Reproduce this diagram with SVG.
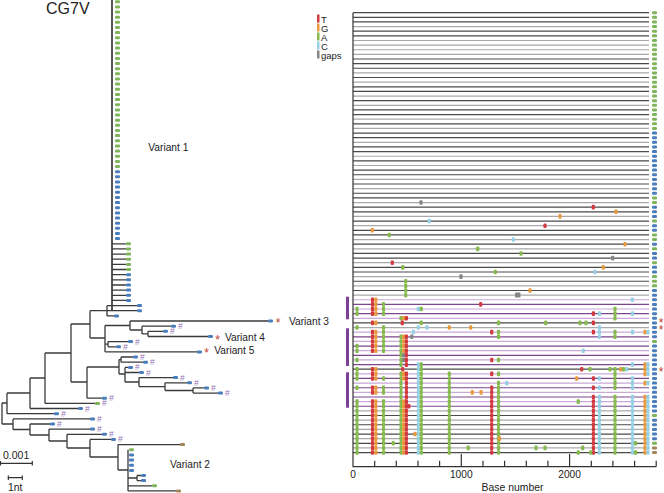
<svg xmlns="http://www.w3.org/2000/svg" xmlns:xlink="http://www.w3.org/1999/xlink" width="664" height="493" viewBox="0 0 664 493">
<style>
.txt{font-family:"Liberation Sans",Arial,sans-serif;fill:#222}
.lg{font-family:"Liberation Sans",Arial,sans-serif;font-size:9.5px;fill:#222}
.hs{font-family:"Liberation Sans",Arial,sans-serif;font-size:8.5px;fill:#9474b8}
.st{font-family:"Liberation Sans",Arial,sans-serif;font-size:12px;fill:#c0392b;text-anchor:middle}
.ln{fill:none;stroke-width:1.2}
.dk{stroke:#4a4a4a}.lt{stroke:#a9a9a9}.pd{stroke:#7d4691}.pl{stroke:#c9a9d8}
.tr{fill:none;stroke:#3a3a3a;stroke-width:1.3}
.trunk{fill:none;stroke:#555;stroke-width:2}
.ax{fill:none;stroke:#333;stroke-width:1.2}
.t{fill:#d23a3f}.g{fill:#e99a3e}.a{fill:#86b94e}.c{fill:#96d0e4}.x{fill:#858585}
.mb{fill:#4a7dbc}.mg{fill:#7fb55a}.mn{fill:#a3865c}
.bar{fill:#7d3f95}
</style>
<defs>
<rect id="dT" class="t" x="-1.6" y="-2.3" width="3.2" height="4.6" rx="1"/>
<rect id="dG" class="g" x="-1.6" y="-2.3" width="3.2" height="4.6" rx="1"/>
<rect id="dA" class="a" x="-1.6" y="-2.3" width="3.2" height="4.6" rx="1"/>
<rect id="dC" class="c" x="-1.6" y="-2.3" width="3.2" height="4.6" rx="1"/>
<rect id="dX" class="x" x="-1.6" y="-2.3" width="3.2" height="4.6" rx="1"/>
<rect id="mB" class="mb" x="0" y="-1.5" width="5" height="3" rx="1.2"/>
<rect id="mG" class="mg" x="0" y="-1.5" width="5" height="3" rx="1.2"/>
<rect id="mN" class="mn" x="0" y="-1.5" width="5" height="3" rx="1.2"/>
<g id="F">
<use href="#dA" x="357"/><use href="#dT" x="372.5"/><use href="#dG" x="375.8"/><use href="#dA" x="383.5"/><use href="#dA" x="401"/><use href="#dG" x="403.6"/><use href="#dT" x="406.4"/><use href="#dC" x="418.3"/><use href="#dA" x="421.3"/><use href="#dA" x="449.3"/><use href="#dT" x="491.7"/><use href="#dA" x="498.5"/><use href="#dT" x="593.4"/><use href="#dC" x="599.4"/><use href="#dA" x="615"/><use href="#dC" x="632.5"/><use href="#dG" x="645"/><use href="#dC" x="648"/>
</g>
</defs>
<rect width="664" height="493" fill="#fff"/>

<g id="title"><text class="txt" x="46" y="13.5" font-size="16">CG7V</text></g>

<g id="tree">
<path class="trunk" d="M112 0V310.7"/>
<path class="tr" d="M112 243.8H126M112 248.9H126M112 254.1H126M112 259.2H126M112 264.4H126M112 269.5H126M112 274.7H126M112 279.8H126M112 285H126M112 290.1H126M112 295.3H126M112 300.4H126
M90 310.7H137M107 305.6V315.9M107 305.6H137M107 315.9H114
M90 310.7V338M90 338H105M105 325.5V351.9M105 325.5H130M105 344.2H108M105 351.9H197
M130 321V330M130 321H268M130 330H142M142 326.2V333.9M142 326.2H171M142 333.9H148M148 331.3V336.5M148 331.3H163M148 336.5H208
M108 341.6V346.8M108 341.6H128M108 346.8H116
M71 324H90M71 324V382M71 382H87
M87 367V398.2M87 367H119M87 398.2H102
M119 359.6V374M119 359.6H121M119 374H125
M121 357V362.2M121 357H133M121 362.2H143
M125 367.4V382M125 367.4H128M125 372.5H139M125 382H139
M139 377.6V386.6M139 377.6H173M139 386.6H165
M165 382.8V390.5M165 382.8H187M165 390.5H193
M193 387.9V393.1M193 387.9H204M193 393.1H218
M45 353V403.4M45 353H71M45 403.4H95
M30 378V408.5M30 378H45M30 408.5H78
M7 393V413.7M7 393H30M7 413.7H54
M2 403V424M2 403H7M2 424H13
M13 418.9V429.5M13 418.9H90M13 429.5H30
M30 424V435M30 424H50M30 435H49
M49 429.1V441M49 429.1H90M49 441H67
M67 434.3V448M67 434.3H102M67 448H90
M90 439.4V457M90 439.4H111M90 457H118
M118 444.6V470M118 444.6H180M118 470H128
M128 449.8V490.9M128 478H137M128 485.8H152M128 490.9H176
M137 475.5V480.6M137 475.5H141M137 480.6H141"/>
</g>

<g id="tree-tips">
<use href="#mG" x="115" y="1.7"/><use href="#mG" x="115" y="6.9"/><use href="#mG" x="115" y="12"/><use href="#mG" x="115" y="17.2"/><use href="#mG" x="115" y="22.3"/><use href="#mG" x="115" y="27.5"/><use href="#mG" x="115" y="32.6"/><use href="#mG" x="115" y="37.8"/><use href="#mG" x="115" y="42.9"/><use href="#mG" x="115" y="48.1"/><use href="#mG" x="115" y="53.2"/><use href="#mG" x="115" y="58.4"/><use href="#mG" x="115" y="63.5"/><use href="#mG" x="115" y="68.7"/><use href="#mG" x="115" y="73.8"/><use href="#mG" x="115" y="79"/><use href="#mG" x="115" y="84.1"/><use href="#mG" x="115" y="89.3"/><use href="#mG" x="115" y="94.4"/><use href="#mG" x="115" y="99.6"/><use href="#mG" x="115" y="104.7"/><use href="#mG" x="115" y="109.9"/><use href="#mG" x="115" y="115"/><use href="#mG" x="115" y="120.2"/><use href="#mG" x="115" y="125.3"/><use href="#mG" x="115" y="130.5"/><use href="#mG" x="115" y="135.6"/><use href="#mG" x="115" y="140.8"/><use href="#mG" x="115" y="145.9"/><use href="#mG" x="115" y="151.1"/><use href="#mG" x="115" y="156.2"/><use href="#mG" x="115" y="161.4"/><use href="#mG" x="115" y="166.5"/>
<use href="#mB" x="115" y="171.7"/><use href="#mB" x="115" y="176.8"/><use href="#mB" x="115" y="182"/><use href="#mB" x="115" y="187.1"/><use href="#mB" x="115" y="192.3"/><use href="#mB" x="115" y="197.4"/><use href="#mB" x="115" y="202.6"/><use href="#mB" x="115" y="207.7"/><use href="#mB" x="115" y="212.9"/><use href="#mB" x="115" y="218"/><use href="#mB" x="115" y="223.2"/><use href="#mB" x="115" y="228.3"/><use href="#mB" x="115" y="233.5"/><use href="#mB" x="115" y="238.6"/>
<use href="#mG" x="126" y="243.8"/><use href="#mG" x="126" y="248.9"/><use href="#mG" x="126" y="254.1"/><use href="#mG" x="126" y="259.2"/><use href="#mG" x="126" y="264.4"/><use href="#mG" x="126" y="269.5"/>
<use href="#mB" x="126" y="274.7"/><use href="#mB" x="126" y="279.8"/><use href="#mB" x="126" y="285"/><use href="#mB" x="126" y="290.1"/><use href="#mB" x="126" y="295.3"/><use href="#mB" x="126" y="300.4"/>
<use href="#mB" x="137" y="305.6"/><use href="#mB" x="137" y="310.7"/><use href="#mB" x="114" y="315.9"/><use href="#mB" x="268" y="321"/><use href="#mB" x="171" y="326.2"/><use href="#mB" x="163" y="331.3"/><use href="#mB" x="208" y="336.5"/><use href="#mB" x="128" y="341.6"/><use href="#mB" x="116" y="346.8"/><use href="#mB" x="197" y="351.9"/><use href="#mB" x="133" y="357"/><use href="#mB" x="143" y="362.2"/><use href="#mB" x="128" y="367.4"/><use href="#mB" x="139" y="372.5"/><use href="#mB" x="173" y="377.6"/><use href="#mB" x="187" y="382.8"/><use href="#mB" x="204" y="387.9"/><use href="#mB" x="218" y="393.1"/><use href="#mB" x="102" y="398.2"/><use href="#mG" x="95" y="403.4"/><use href="#mB" x="78" y="408.5"/><use href="#mB" x="54" y="413.7"/><use href="#mB" x="90" y="418.9"/><use href="#mB" x="50" y="424"/><use href="#mB" x="90" y="429.1"/><use href="#mB" x="102" y="434.3"/><use href="#mB" x="111" y="439.4"/><use href="#mN" x="180" y="444.6"/><use href="#mG" x="129" y="449.8"/><use href="#mB" x="129" y="454.9"/><use href="#mB" x="129" y="460.1"/><use href="#mB" x="129" y="465.2"/><use href="#mB" x="129" y="470.4"/><use href="#mB" x="141" y="475.5"/><use href="#mB" x="141" y="480.6"/><use href="#mG" x="152" y="485.8"/><use href="#mN" x="176" y="490.9"/>
</g>

<g id="hashes">
<text class="hs" x="178" y="329.2">#</text><text class="hs" x="170" y="334.3">#</text><text class="hs" x="135" y="344.6">#</text><text class="hs" x="123" y="349.8">#</text><text class="hs" x="140" y="360">#</text><text class="hs" x="150" y="365.2">#</text><text class="hs" x="135" y="370.4">#</text><text class="hs" x="146" y="375.5">#</text><text class="hs" x="180" y="380.6">#</text><text class="hs" x="194" y="385.8">#</text><text class="hs" x="211" y="390.9">#</text><text class="hs" x="225" y="396.1">#</text><text class="hs" x="109" y="401.2">#</text><text class="hs" x="102" y="406.4">#</text><text class="hs" x="85" y="411.5">#</text><text class="hs" x="61" y="416.7">#</text><text class="hs" x="97" y="421.9">#</text><text class="hs" x="57" y="427">#</text><text class="hs" x="97" y="432.1">#</text><text class="hs" x="109" y="437.3">#</text><text class="hs" x="118" y="442.4">#</text>
</g>

<g id="variants">
<text class="txt" x="148.3" y="150.5" font-size="10.2">Variant 1</text>
<text class="st" x="278" y="326.5">*</text><text class="txt" x="289" y="324.5" font-size="10.2">Variant 3</text>
<text class="st" x="217.5" y="344.3">*</text><text class="txt" x="225" y="341" font-size="10.2">Variant 4</text>
<text class="st" x="206.7" y="357.3">*</text><text class="txt" x="214.3" y="354" font-size="10.2">Variant 5</text>
<text class="txt" x="170" y="468.3" font-size="10.2">Variant 2</text>
</g>

<g id="scale">
<text class="txt" x="3" y="459" font-size="10.5">0.001</text>
<path class="ax" d="M0.5 463.3H32.3M0.5 461V465.6M32.3 461V465.6M8.3 477.7H22.3M8.3 475.4V480M22.3 475.4V480"/>
<text class="txt" x="8" y="491" font-size="10.4">1nt</text>
</g>

<g id="legend">
<rect class="t" x="317" y="14.5" width="2.5" height="8"/><text class="lg" x="321" y="22.5">T</text>
<rect class="g" x="317" y="23.5" width="2.5" height="8"/><text class="lg" x="321" y="31.5">G</text>
<rect class="a" x="317" y="32.5" width="2.5" height="8"/><text class="lg" x="321" y="40.5">A</text>
<rect class="c" x="317" y="41.5" width="2.5" height="8"/><text class="lg" x="321" y="49.5">C</text>
<rect class="x" x="317" y="50.5" width="2.5" height="8"/><text class="lg" x="321" y="58.8">gaps</text>
</g>

<g id="rows">
<path class="ln lt" d="M353 26.59H649M353 40.48H649M353 45.11H649M353 49.74H649M353 54.37H649M353 72.89H649M353 82.15H649M353 96.04H649M353 105.3H649M353 119.19H649M353 128.45H649M353 142.34H649M353 156.23H649M353 165.49H649M353 179.38H649M353 188.64H649M353 202.53H649M353 216.42H649M353 225.68H649M353 239.57H649M353 248.83H649M353 262.72H649M353 276.61H649M353 285.87H649M353 295.13H649M353 327.54H649M353 410.88H649M353 420.14H649M353 429.4H649M353 438.66H649M353 447.92H649"/>
<path class="ln dk" d="M353 12.7H649M353 17.33H649M353 21.96H649M353 31.22H649M353 35.85H649M353 59H649M353 63.63H649M353 68.26H649M353 77.52H649M353 86.78H649M353 91.41H649M353 100.67H649M353 109.93H649M353 114.56H649M353 123.82H649M353 133.08H649M353 137.71H649M353 146.97H649M353 151.6H649M353 160.86H649M353 170.12H649M353 174.75H649M353 184.01H649M353 193.27H649M353 197.9H649M353 207.16H649M353 211.79H649M353 221.05H649M353 230.31H649M353 234.94H649M353 244.2H649M353 253.46H649M353 258.09H649M353 267.35H649M353 271.98H649M353 281.24H649M353 290.5H649M353 322.91H649M353 369.21H649M353 415.51H649M353 424.77H649M353 434.03H649M353 443.29H649M353 452.55H649"/>
<path class="ln pl" d="M353 299.76H649M353 309.02H649M353 318.28H649M353 332.17H649M353 341.43H649M353 350.69H649M353 359.95H649M353 373.84H649M353 383.1H649M353 392.36H649M353 401.62H649"/>
<path class="ln pd" d="M353 304.39H649M353 313.65H649M353 336.8H649M353 346.06H649M353 355.32H649M353 364.58H649M353 378.47H649M353 387.73H649M353 396.99H649M353 406.25H649"/>
</g>

<g id="groups">
<rect class="bar" x="346" y="296.7" width="3" height="22.6"/>
<rect class="bar" x="346" y="328.3" width="3" height="37.7"/>
<rect class="bar" x="346" y="372.3" width="3" height="35.4"/>
</g>

<g id="axis">
<path class="ax" d="M353 12.7V466.7H656.2M461.3 454V466.7M569.6 454V466.7M374.7 460.7V466.7M396.3 460.7V466.7M418 460.7V466.7M439.6 460.7V466.7M483 460.7V466.7M504.6 460.7V466.7M526.3 460.7V466.7M547.9 460.7V466.7M591.3 460.7V466.7M612.9 460.7V466.7M634.6 460.7V466.7M656.2 460.7V466.7"/>
<text class="txt" x="353" y="478.3" font-size="10.2" text-anchor="middle">0</text>
<text class="txt" x="461.3" y="478.3" font-size="10.2" text-anchor="middle">1000</text>
<text class="txt" x="569.6" y="478.3" font-size="10.2" text-anchor="middle">2000</text>
<text class="txt" x="512.5" y="490.5" font-size="10.4" text-anchor="middle">Base number</text>
</g>

<g id="mutations">
<use href="#dX" x="421" y="202.53"/><use href="#dT" x="593.3" y="207.16"/><use href="#dG" x="616" y="211.79"/><use href="#dG" x="560" y="216.42"/><use href="#dC" x="429.3" y="221.05"/><use href="#dT" x="545" y="225.68"/><use href="#dG" x="372.3" y="230.31"/><use href="#dA" x="389.3" y="234.94"/><use href="#dC" x="513.3" y="239.57"/><use href="#dG" x="625" y="244.2"/><use href="#dA" x="477.7" y="248.83"/><use href="#dA" x="521" y="253.46"/><use href="#dX" x="612.7" y="258.09"/><use href="#dT" x="392.3" y="262.72"/><use href="#dA" x="402.7" y="267.35"/><use href="#dG" x="603.3" y="267.35"/><use href="#dA" x="495.3" y="271.98"/><use href="#dC" x="595" y="271.98"/><use href="#dX" x="461" y="276.61"/><use href="#dA" x="405.7" y="281.24"/><use href="#dA" x="405.7" y="285.87"/><use href="#dA" x="405.7" y="290.5"/><use href="#dG" x="530" y="290.5"/><use href="#dA" x="405.7" y="295.13"/><rect class="x" x="515" y="292.6" width="5.5" height="5" rx="1.2"/>
<g transform="translate(0,299.76)"><use href="#dT" x="372.5"/><use href="#dG" x="375.8"/><use href="#dC" x="632.3"/></g>
<g transform="translate(0,304.39)"><use href="#dT" x="372.5"/><use href="#dG" x="375.8"/><use href="#dA" x="383.5"/><use href="#dT" x="480.7"/></g>
<g transform="translate(0,309.02)"><use href="#dA" x="357"/><use href="#dT" x="372.5"/><use href="#dG" x="375.8"/><use href="#dA" x="383.5"/><use href="#dC" x="418.3"/><use href="#dA" x="421.3"/><use href="#dA" x="615"/></g>
<g transform="translate(0,313.65)"><use href="#dA" x="357"/><use href="#dT" x="372.5"/><use href="#dG" x="375.8"/><use href="#dA" x="383.5"/><use href="#dT" x="593.4"/><use href="#dC" x="599.4"/><use href="#dA" x="615"/><use href="#dC" x="632.5"/></g>
<g transform="translate(0,318.28)"><use href="#dA" x="401"/><use href="#dG" x="403.6"/><use href="#dT" x="406.4"/><use href="#dA" x="615"/></g>
<g transform="translate(0,322.91)"><use href="#dT" x="372.5"/><use href="#dG" x="375.8"/><use href="#dT" x="402.3"/><use href="#dA" x="421.3"/><use href="#dA" x="498.5"/><use href="#dA" x="545.7"/><use href="#dA" x="580"/><use href="#dA" x="586"/><use href="#dT" x="593.4"/></g>
<g transform="translate(0,327.54)"><use href="#dA" x="357"/><use href="#dA" x="383.5"/><use href="#dC" x="418.3"/><use href="#dC" x="427"/><use href="#dG" x="449.3"/><use href="#dG" x="470.7"/><use href="#dC" x="599.4"/></g>
<g transform="translate(0,332.17)"><use href="#dT" x="372.5"/><use href="#dG" x="375.8"/><use href="#dA" x="383.5"/><use href="#dC" x="413.3"/><use href="#dT" x="491.7"/><use href="#dA" x="498.5"/><use href="#dT" x="593.4"/><use href="#dC" x="599.4"/><use href="#dA" x="615"/><use href="#dC" x="632.5"/><use href="#dG" x="645"/><use href="#dC" x="648"/></g>
<g transform="translate(0,336.8)"><use href="#dT" x="372.5"/><use href="#dG" x="375.8"/><use href="#dA" x="383.5"/><use href="#dA" x="401"/><use href="#dG" x="403.6"/><use href="#dT" x="406.4"/><use href="#dX" x="411.7"/><use href="#dA" x="498.5"/><use href="#dC" x="599.4"/><use href="#dA" x="615"/></g>
<g transform="translate(0,341.43)"><use href="#dT" x="372.5"/><use href="#dG" x="375.8"/><use href="#dA" x="383.5"/><use href="#dA" x="401"/><use href="#dG" x="403.6"/><use href="#dT" x="406.4"/></g>
<g transform="translate(0,346.06)"><use href="#dA" x="357"/><use href="#dT" x="372.5"/><use href="#dG" x="375.8"/><use href="#dA" x="383.5"/><use href="#dA" x="401"/><use href="#dG" x="403.6"/><use href="#dT" x="406.4"/></g>
<g transform="translate(0,350.69)"><use href="#dA" x="357"/><use href="#dT" x="372.5"/><use href="#dG" x="375.8"/><use href="#dA" x="383.5"/><use href="#dA" x="401"/><use href="#dG" x="403.6"/><use href="#dT" x="406.4"/><use href="#dC" x="583.3"/></g>
<g transform="translate(0,355.32)"><use href="#dA" x="401"/><use href="#dX" x="403.6"/><use href="#dT" x="406.4"/></g>
<g transform="translate(0,359.95)"><use href="#dA" x="357"/><use href="#dA" x="401"/><use href="#dX" x="403.6"/><use href="#dT" x="406.4"/><use href="#dT" x="491.7"/><use href="#dA" x="498.5"/></g>
<g transform="translate(0,364.58)"><use href="#dA" x="401"/><use href="#dT" x="406.4"/><use href="#dC" x="418.3"/><use href="#dA" x="421.3"/><use href="#dC" x="632.5"/><use href="#dG" x="645"/><use href="#dC" x="648"/></g>
<g transform="translate(0,369.21)"><use href="#dA" x="357"/><use href="#dT" x="372.5"/><use href="#dG" x="375.8"/><use href="#dT" x="402.7"/><use href="#dC" x="418.3"/><use href="#dA" x="421.3"/><use href="#dT" x="581.7"/><use href="#dA" x="590"/><use href="#dA" x="610"/><use href="#dA" x="615"/><use href="#dG" x="620.7"/><use href="#dA" x="623.5"/><use href="#dC" x="626.7"/><use href="#dG" x="645"/><use href="#dC" x="648"/></g>
<g transform="translate(0,373.84)"><use href="#dA" x="357"/><use href="#dT" x="372.5"/><use href="#dG" x="375.8"/><use href="#dA" x="401"/><use href="#dG" x="403.6"/><use href="#dT" x="406.4"/><use href="#dC" x="418.3"/><use href="#dA" x="421.3"/><use href="#dA" x="449.3"/><use href="#dT" x="491.7"/><use href="#dA" x="498.5"/><use href="#dA" x="615"/><use href="#dG" x="645"/><use href="#dC" x="648"/></g>
<g transform="translate(0,378.47)"><use href="#dA" x="357"/><use href="#dT" x="372.5"/><use href="#dG" x="375.8"/><use href="#dA" x="383.5"/><use href="#dA" x="401"/><use href="#dG" x="403.6"/><use href="#dT" x="406.4"/><use href="#dC" x="418.3"/><use href="#dA" x="421.3"/><use href="#dA" x="449.3"/><use href="#dG" x="576.7"/><use href="#dT" x="593.4"/><use href="#dC" x="599.4"/><use href="#dA" x="615"/><use href="#dC" x="632.5"/></g>
<g transform="translate(0,383.1)"><use href="#dA" x="401"/><use href="#dT" x="406.4"/><use href="#dC" x="418.3"/><use href="#dA" x="421.3"/><use href="#dA" x="449.3"/><use href="#dA" x="498.5"/><use href="#dC" x="506.7"/><use href="#dA" x="615"/><use href="#dC" x="632.5"/><use href="#dG" x="645"/><use href="#dC" x="648"/></g>
<g transform="translate(0,387.73)"><use href="#dA" x="357"/><use href="#dT" x="372.5"/><use href="#dG" x="375.8"/><use href="#dA" x="383.5"/><use href="#dA" x="401"/><use href="#dT" x="406.4"/><use href="#dC" x="418.3"/><use href="#dA" x="421.3"/><use href="#dA" x="449.3"/><use href="#dT" x="491.7"/><use href="#dA" x="498.5"/><use href="#dT" x="593.4"/><use href="#dC" x="599.4"/><use href="#dA" x="615"/><use href="#dC" x="632.5"/></g>
<g transform="translate(0,392.36)"><use href="#dT" x="372.5"/><use href="#dG" x="375.8"/><use href="#dA" x="383.5"/><use href="#dA" x="401"/><use href="#dT" x="406.4"/><use href="#dC" x="418.3"/><use href="#dA" x="421.3"/><use href="#dA" x="449.3"/><use href="#dG" x="472.3"/><use href="#dG" x="481"/><use href="#dT" x="491.7"/><use href="#dA" x="498.5"/></g>
<g transform="translate(0,396.99)"><use href="#dA" x="401"/><use href="#dT" x="406.4"/><use href="#dC" x="418.3"/><use href="#dA" x="421.3"/><use href="#dA" x="449.3"/><use href="#dT" x="491.7"/><use href="#dA" x="498.5"/><use href="#dT" x="593.4"/><use href="#dC" x="599.4"/><use href="#dA" x="615"/><use href="#dC" x="632.5"/><use href="#dG" x="645"/><use href="#dC" x="648"/></g>
<g transform="translate(0,401.62)"><use href="#F"/><use href="#dA" x="578.3"/></g>
<g transform="translate(0,406.25)"><use href="#F"/><use href="#dT" x="408.8"/></g>
<use href="#F" y="410.88"/><use href="#F" y="415.51"/><use href="#F" y="420.14"/><use href="#F" y="424.77"/><use href="#F" y="429.4"/>
<g transform="translate(0,434.03)"><use href="#F"/><use href="#dG" x="415"/></g>
<g transform="translate(0,438.66)"><use href="#F"/><use href="#dG" x="499.5"/></g>
<g transform="translate(0,443.29)"><use href="#F"/><use href="#dA" x="393.3"/><use href="#dA" x="635.5"/></g>
<g transform="translate(0,447.92)"><use href="#F"/><use href="#dA" x="468.3"/><use href="#dA" x="536"/><use href="#dA" x="545"/><use href="#dA" x="582.7"/></g>
<g transform="translate(0,452.55)"><use href="#F"/><use href="#dA" x="578.3"/><use href="#dA" x="590.7"/><use href="#dA" x="635.5"/></g>
</g>

<g id="row-tips">
<use href="#mG" x="652" y="12.7"/><use href="#mG" x="652" y="17.33"/><use href="#mG" x="652" y="21.96"/><use href="#mG" x="652" y="26.59"/><use href="#mG" x="652" y="31.22"/><use href="#mG" x="652" y="35.85"/><use href="#mG" x="652" y="40.48"/><use href="#mG" x="652" y="45.11"/><use href="#mG" x="652" y="49.74"/><use href="#mG" x="652" y="54.37"/><use href="#mG" x="652" y="59"/><use href="#mG" x="652" y="63.63"/><use href="#mG" x="652" y="68.26"/><use href="#mG" x="652" y="72.89"/><use href="#mG" x="652" y="77.52"/><use href="#mG" x="652" y="82.15"/><use href="#mG" x="652" y="86.78"/><use href="#mG" x="652" y="91.41"/><use href="#mG" x="652" y="96.04"/><use href="#mG" x="652" y="100.67"/><use href="#mG" x="652" y="105.3"/><use href="#mG" x="652" y="109.93"/><use href="#mG" x="652" y="114.56"/><use href="#mG" x="652" y="119.19"/><use href="#mG" x="652" y="123.82"/><use href="#mG" x="652" y="128.45"/>
<use href="#mB" x="652" y="133.08"/><use href="#mB" x="652" y="137.71"/><use href="#mB" x="652" y="142.34"/><use href="#mB" x="652" y="146.97"/><use href="#mB" x="652" y="151.6"/><use href="#mB" x="652" y="156.23"/><use href="#mB" x="652" y="160.86"/><use href="#mB" x="652" y="165.49"/><use href="#mB" x="652" y="170.12"/><use href="#mB" x="652" y="174.75"/><use href="#mB" x="652" y="179.38"/><use href="#mB" x="652" y="184.01"/><use href="#mB" x="652" y="188.64"/><use href="#mB" x="652" y="193.27"/>
<use href="#mG" x="652" y="197.9"/><use href="#mG" x="652" y="202.53"/><use href="#mB" x="652" y="207.16"/><use href="#mB" x="652" y="211.79"/><use href="#mB" x="652" y="216.42"/><use href="#mG" x="652" y="221.05"/><use href="#mB" x="652" y="225.68"/><use href="#mB" x="652" y="230.31"/><use href="#mG" x="652" y="234.94"/><use href="#mG" x="652" y="239.57"/><use href="#mB" x="652" y="244.2"/><use href="#mG" x="652" y="248.83"/><use href="#mB" x="652" y="253.46"/><use href="#mB" x="652" y="258.09"/><use href="#mG" x="652" y="262.72"/><use href="#mB" x="652" y="267.35"/><use href="#mB" x="652" y="271.98"/><use href="#mG" x="652" y="276.61"/><use href="#mG" x="652" y="281.24"/><use href="#mG" x="652" y="285.87"/><use href="#mB" x="652" y="290.5"/><use href="#mB" x="652" y="295.13"/>
<use href="#mB" x="652" y="299.76"/><use href="#mB" x="652" y="304.39"/><use href="#mB" x="652" y="309.02"/><use href="#mB" x="652" y="313.65"/><use href="#mB" x="652" y="318.28"/><use href="#mB" x="652" y="322.91"/><use href="#mB" x="652" y="327.54"/><use href="#mB" x="652" y="332.17"/><use href="#mB" x="652" y="336.8"/><use href="#mG" x="652" y="341.43"/><use href="#mB" x="652" y="346.06"/><use href="#mB" x="652" y="350.69"/><use href="#mB" x="652" y="355.32"/><use href="#mB" x="652" y="359.95"/><use href="#mB" x="652" y="364.58"/><use href="#mB" x="652" y="369.21"/><use href="#mB" x="652" y="373.84"/><use href="#mB" x="652" y="378.47"/><use href="#mB" x="652" y="383.1"/><use href="#mB" x="652" y="387.73"/><use href="#mB" x="652" y="392.36"/><use href="#mB" x="652" y="396.99"/><use href="#mB" x="652" y="401.62"/><use href="#mB" x="652" y="406.25"/><use href="#mB" x="652" y="410.88"/><use href="#mG" x="652" y="415.51"/><use href="#mB" x="652" y="420.14"/><use href="#mB" x="652" y="424.77"/><use href="#mB" x="652" y="429.4"/><use href="#mB" x="652" y="434.03"/><use href="#mB" x="652" y="438.66"/><use href="#mG" x="652" y="443.29"/><use href="#mN" x="652" y="447.92"/><use href="#mN" x="652" y="452.55"/>
<text class="st" x="661" y="327">*</text><text class="st" x="661" y="334">*</text><text class="st" x="661" y="376">*</text>
</g>
</svg>
